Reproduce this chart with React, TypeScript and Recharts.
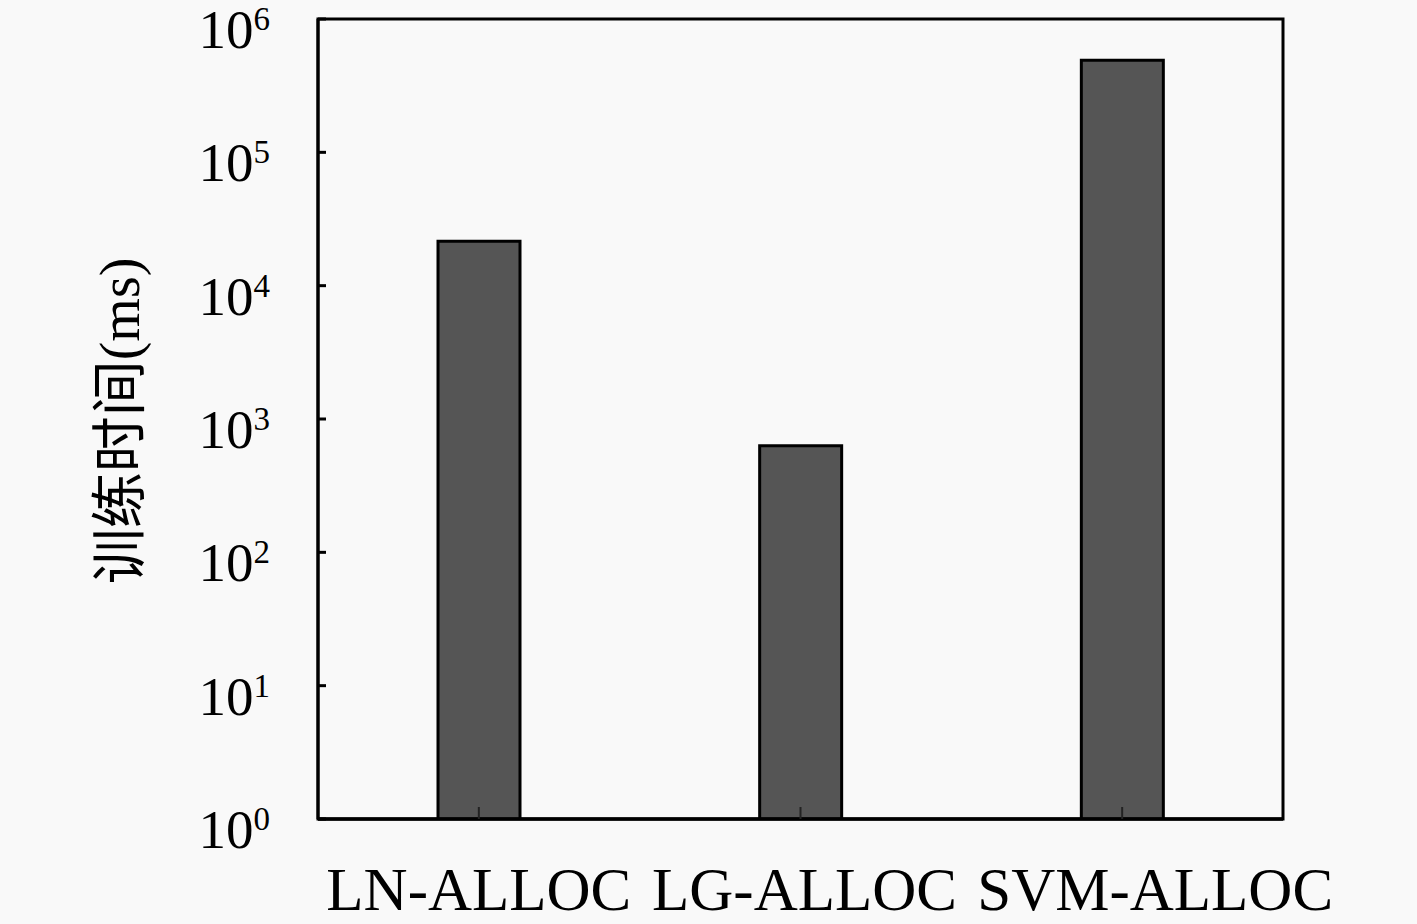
import { Bar, BarChart, ReferenceArea, XAxis, YAxis } from 'recharts'

const categories = ['LN-ALLOC', 'LG-ALLOC', 'SVM-ALLOC']
const trainTimeMs = [21500, 630, 490000]
const yTicks = [1, 10, 100, 1000, 10000, 100000, 1000000]

const data = categories.map((name, i) => ({ name, value: trainTimeMs[i] }))

const BG = '#f9f9f9'
const BAR_FILL = '#555555'
const INK = '#000000'
const SERIF = '"Liberation Serif", "Noto Sans CJK SC", serif'

// the last label sits a bit right of its bar in the original
const X_LABEL_SHIFT = [0, 4, 33]

function YTick({ x, y, payload }: any) {
  const exp = Math.round(Math.log10(payload.value))
  return (
    <g>
      <line x1={x} x2={x + 8} y1={y} y2={y} stroke={INK} strokeWidth={3} />
      <text x={x - 48} y={y + 29} textAnchor="end" fill={INK} fontFamily={SERIF} fontSize={55}>
        10
        <tspan fontSize={33} dy={-18}>
          {exp}
        </tspan>
      </text>
    </g>
  )
}

function XTick({ x, y, payload, index }: any) {
  return (
    <g>
      <line x1={x} x2={x} y1={y} y2={y - 12} stroke="#222" strokeWidth={2} />
      <text
        x={x + (X_LABEL_SHIFT[index] ?? 0)}
        y={y + 91}
        textAnchor="middle"
        fill={INK}
        fontFamily={SERIF}
        fontSize={61}
      >
        {payload.value}
      </text>
    </g>
  )
}

function YTitle() {
  return (
    <text
      transform="translate(120,421) rotate(-90)"
      textAnchor="middle"
      dominantBaseline="central"
      fill={INK}
      fontFamily={SERIF}
      fontSize={56}
    >
      训练时间(ms)
    </text>
  )
}

export default function App() {
  return (
    <div style={{ position: 'absolute', left: 0, top: 0, width: 1417, height: 924, background: BG }}>
      <BarChart width={1417} height={924} data={data} margin={{ top: 19, right: 134, bottom: 0, left: 0 }}>
        <YAxis
          scale="log"
          domain={[1, 1000000]}
          ticks={yTicks}
          allowDataOverflow
          width={318}
          tickSize={0}
          tickMargin={0}
          tickLine={false}
          axisLine={{ stroke: INK, strokeWidth: 3 }}
          tick={<YTick />}
          label={{ content: () => <YTitle /> }}
        />
        <ReferenceArea y1={1} y2={1000000} fill="none" stroke={INK} strokeWidth={3} fillOpacity={0} />
        <Bar dataKey="value" fill={BAR_FILL} stroke={INK} strokeWidth={3} barSize={82} isAnimationActive={false} />
        <XAxis
          dataKey="name"
          height={105}
          tickSize={0}
          tickMargin={0}
          tickLine={false}
          axisLine={{ stroke: INK, strokeWidth: 3.5 }}
          tick={<XTick />}
          interval={0}
        />
      </BarChart>
    </div>
  )
}
